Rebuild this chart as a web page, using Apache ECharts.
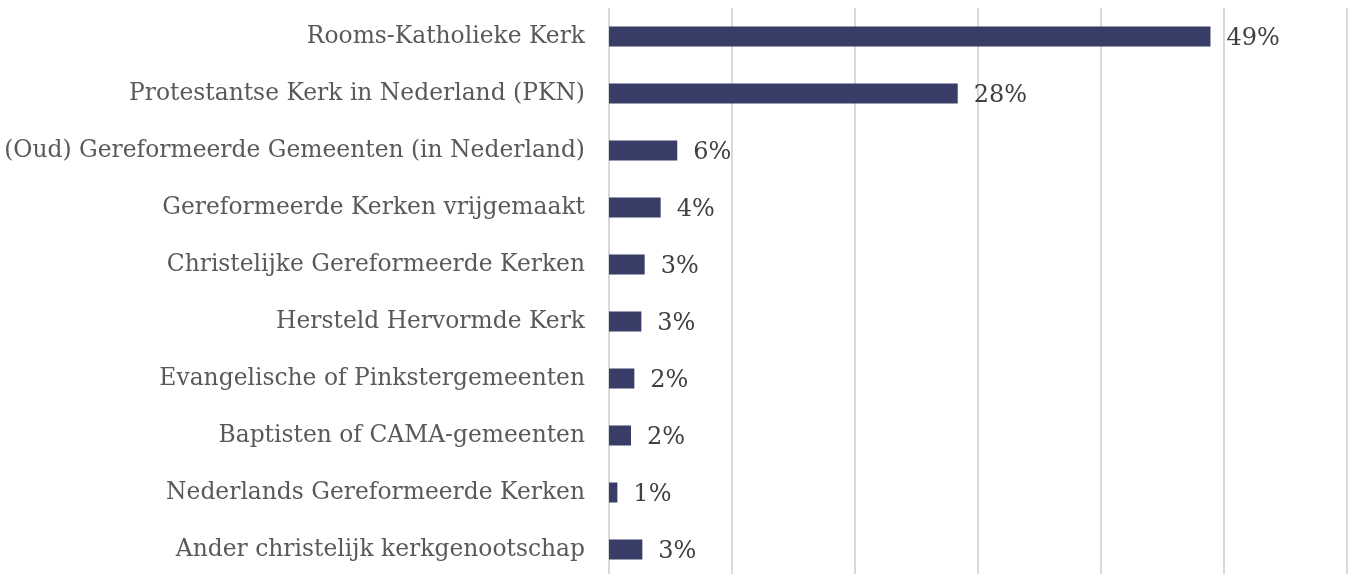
<!DOCTYPE html>
<html>
<head>
<meta charset="utf-8">
<script src="https://cdn.jsdelivr.net/npm/echarts@6/dist/echarts.min.js"></script>
<style>
    html, body { margin: 0; padding: 0; background: #fff; }
    #chart { width: 1351px; height: 574px; }
</style>
</head>
<body>
<div id="chart"></div>
<script>
// categories top to bottom
const categories = [
    'Rooms-Katholieke Kerk',
    'Protestantse Kerk in Nederland (PKN)',
    '(Oud) Gereformeerde Gemeenten (in Nederland)',
    'Gereformeerde Kerken vrijgemaakt',
    'Christelijke Gereformeerde Kerken',
    'Hersteld Hervormde Kerk',
    'Evangelische of Pinkstergemeenten',
    'Baptisten of CAMA-gemeenten',
    'Nederlands Gereformeerde Kerken',
    'Ander christelijk kerkgenootschap'
];
// share in percent
const values = [48.9, 28.35, 5.55, 4.2, 2.9, 2.63, 2.06, 1.79, 0.68, 2.71];
// printed labels
const labels = ['49%', '28%', '6%', '4%', '3%', '3%', '2%', '2%', '1%', '3%'];

const chart = echarts.init(document.getElementById('chart'));

const option = {
    animation: false,
    grid: {
        left: 609,
        right: 4,
        top: 8,
        height: 570,
        outerBoundsMode: 'none'
    },
    xAxis: {
        type: 'value',
        min: 0,
        max: 60,
        interval: 10,
        axisLabel: { show: false },
        axisLine: { show: false },
        axisTick: { show: false },
        splitLine: { lineStyle: { color: '#d9d9d9', width: 2 } }
    },
    yAxis: {
        type: 'category',
        inverse: true,
        data: categories,
        axisLine: { show: false },
        axisTick: { show: false },
        axisLabel: {
            margin: 24,
            color: '#595959',
            fontFamily: 'DejaVu Serif',
            fontSize: 23.4
        }
    },
    series: [{
        type: 'bar',
        data: values,
        barWidth: 20,
        itemStyle: { color: '#373d67' },
        label: {
            show: true,
            position: 'right',
            distance: 16,
            offset: [0, 2],
            color: '#404040',
            fontFamily: 'DejaVu Serif',
            fontSize: 24,
            formatter: (p) => labels[p.dataIndex]
        }
    }]
};

chart.setOption(option);

window.addEventListener('resize', function () {
    chart.resize();
});
</script>
</body>
</html>
